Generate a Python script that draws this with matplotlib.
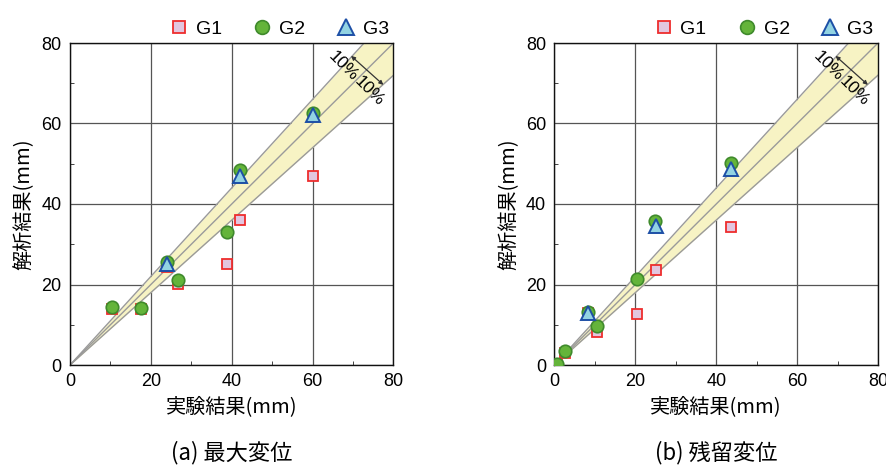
import matplotlib
matplotlib.use("Agg")
import matplotlib.pyplot as plt
import numpy as np

plt.rcParams['font.family'] = ['Liberation Sans', 'Noto Sans CJK JP', 'DejaVu Sans']

# ---- data ----
# (a) max displacement
a_g1_x = [10.4, 17.6, 24.1, 26.6, 38.8, 42.1, 60.0]
a_g1_y = [13.9, 13.8, 24.4, 20.1, 25.2, 36.1, 47.0]
a_g2_x = [10.3, 17.6, 24.1, 26.6, 38.8, 42.1, 60.0]
a_g2_y = [14.3, 14.2, 25.5, 21.0, 33.1, 48.4, 62.6]
a_g3_x = [24.1, 42.1, 60.0]
a_g3_y = [25.2, 47.0, 62.2]
# (b) residual displacement
b_g1_x = [0.7, 2.6, 8.2, 10.5, 20.4, 25.0, 43.7]
b_g1_y = [0.0, 3.0, 12.8, 8.3, 12.6, 23.6, 34.2]
b_g2_x = [0.7, 2.6, 8.2, 10.5, 20.4, 24.8, 43.7]
b_g2_y = [0.2, 3.6, 13.2, 9.7, 21.4, 35.8, 50.2]
b_g3_x = [8.2, 25.0, 43.7]
b_g3_y = [13.0, 34.6, 48.6]

panels = [
    ("(a) 最大変位", (a_g1_x, a_g1_y), (a_g2_x, a_g2_y), (a_g3_x, a_g3_y)),
    ("(b) 残留変位", (b_g1_x, b_g1_y), (b_g2_x, b_g2_y), (b_g3_x, b_g3_y)),
]
labels = ["G1", "G2", "G3"]
ticks = [0, 20, 40, 60, 80]
band = 0.10

W, H = 887, 468
fig = plt.figure(figsize=(W / 100, H / 100), dpi=100)
cjk = ['Noto Sans CJK JP', 'Liberation Sans']

styles = [
    dict(marker='s', ms=7.5, mfc='#e2c6df', mec='#ee2d2d', mew=1.3),
    dict(marker='o', ms=9, mfc='#64b43a', mec='#3f8a2c', mew=1.2),
    dict(marker='^', ms=10, mfc='#92d3e2', mec='#1d4fa6', mew=1.4),
]

lefts = [70 / W, 554.5 / W]
for i, (title, g1, g2, g3) in enumerate(panels):
    ax = fig.add_axes([lefts[i], (H - 365) / H, 323.5 / W, 322 / H])
    ax.set_xlim(0, 80)
    ax.set_ylim(0, 80)
    xs = np.array([0, 80])
    ax.fill_between(xs, (1 - band) * xs, (1 + band) * xs, color='#f7f3c4', lw=0, zorder=1)
    for k in (1 - band, 1.0, 1 + band):
        ax.plot(xs, k * xs, color='#9a9a9a', lw=1.0, zorder=2)
    ax.grid(True, color='#555555', lw=0.9, zorder=0)
    ax.set_axisbelow(True)
    for (x, y), st, lab in zip((g1, g2, g3), styles, labels):
        ax.plot(x, y, ls='none', label=lab, zorder=4, **st)
    # 10% annotation
    ax.annotate('', xy=(77.5, 69.6), xytext=(69.5, 76.8),
                arrowprops=dict(arrowstyle='<|-|>', color='#333333', lw=0.9,
                                mutation_scale=6, shrinkA=0, shrinkB=0), zorder=5)
    ax.text(67.6, 74.3, '10%', rotation=-45, ha='center', va='center', fontsize=12.5, zorder=5)
    ax.text(74.0, 68.0, '10%', rotation=-45, ha='center', va='center', fontsize=12.5, zorder=5)

    ax.set_xticks(ticks)
    ax.set_yticks(ticks)
    ax.set_xticks([10, 30, 50, 70], minor=True)
    ax.set_yticks([10, 30, 50, 70], minor=True)
    ax.tick_params(which='both', direction='in', labelsize=13, color='#222222')
    ax.tick_params(which='major', length=0, pad=6)
    ax.tick_params(which='minor', length=3)
    for s in ax.spines.values():
        s.set_color('#111111')
        s.set_linewidth(1.0)
    ax.set_xlabel('実験結果(mm)', fontsize=14.5, family=cjk, labelpad=4)
    ax.set_ylabel('解析結果(mm)', fontsize=14.5, family=cjk, labelpad=5)
    ax.legend(loc='lower right', bbox_to_anchor=(1.0, 1.0), ncol=3, frameon=False,
              fontsize=14, handletextpad=0.25, columnspacing=1.5, borderaxespad=0.0,
              handlelength=1.2, borderpad=0.25, markerscale=1.1)
    fig.text(lefts[i] + 161.75 / W, 1 - 453 / H, title, ha='center', va='center',
             fontsize=16, family=cjk)

fig.savefig('out.png', dpi=100)
